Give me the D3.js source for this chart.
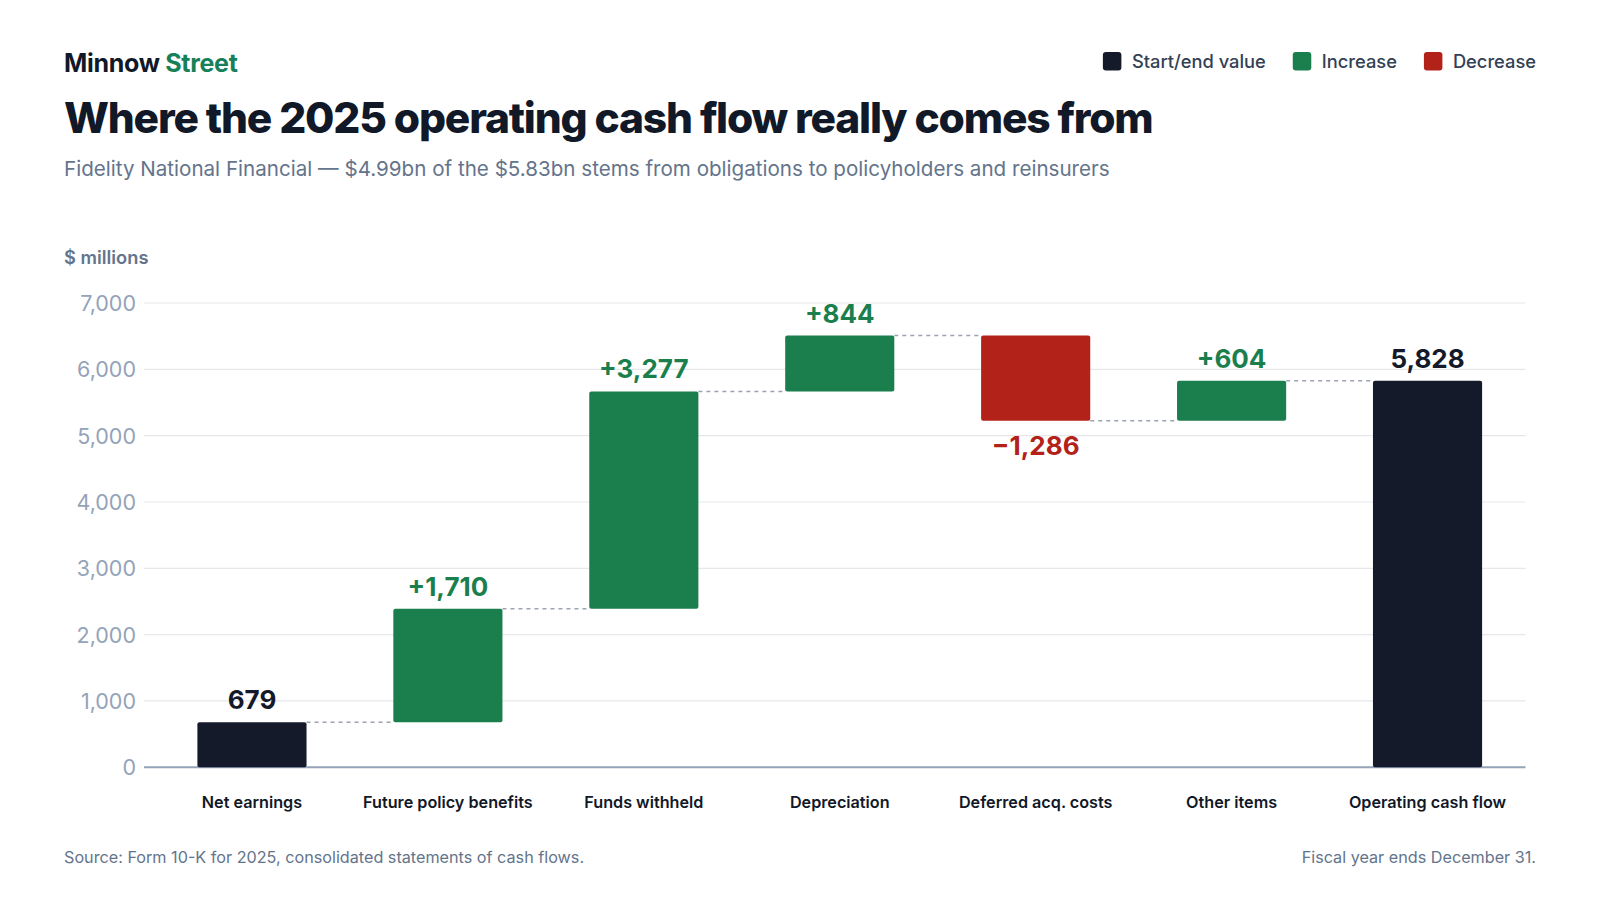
<!DOCTYPE html>
<html><head><meta charset="utf-8">
<script src="https://cdn.jsdelivr.net/npm/d3@7"></script>
<style>
body{margin:0;background:#fff;font-family:Inter,"Noto Sans",sans-serif;}
</style></head>
<body><svg id="c" width="1600" height="900"></svg>
<script>
const categories = ["Net earnings","Future policy benefits","Funds withheld","Depreciation","Deferred acq. costs","Other items","Operating cash flow"];
const values = [679, 1710, 3277, 844, -1286, 604, 5828];
const kinds = ["total","step","step","step","step","step","total"];
const yTicks = [0,1000,2000,3000,4000,5000,6000,7000];
const legendLabels = ["Start/end value","Increase","Decrease"];

const colors = {total:"#141a29", up:"#1b7f4d", down:"#b32219"};
const svg = d3.select("#c");
const F = "Inter, 'Noto Sans', sans-serif";

// Header
const brand = svg.append("text").attr("x",64).attr("y",72).attr("font-family",F).attr("font-size",25).attr("font-weight",700).attr("letter-spacing",-0.3);
brand.append("tspan").attr("fill","#111827").text("Minnow ");
brand.append("tspan").attr("fill","#15805a").text("Street");
svg.append("text").attr("x",64).attr("y",133).attr("font-family",F).attr("font-size",42.5).attr("font-weight",800).attr("fill","#111827").attr("letter-spacing",-1.2).text("Where the 2025 operating cash flow really comes from");
svg.append("text").attr("x",64).attr("y",176).attr("font-family",F).attr("font-size",20.6).attr("fill","#64748b").text("Fidelity National Financial — $4.99bn of the $5.83bn stems from obligations to policyholders and reinsurers");

// Legend (right aligned)
const legColors = [colors.total, colors.up, colors.down];
let lx = 1536;
const legG = svg.append("g");
for (let i = legendLabels.length-1; i >= 0; i--) {
  const t = legG.append("text").attr("y",68).attr("font-family",F).attr("font-size",18.3).attr("font-weight",500).attr("fill","#334155").text(legendLabels[i]);
  const w = t.node().getComputedTextLength();
  t.attr("x", lx - w);
  legG.append("rect").attr("x", lx - w - 29).attr("y",52).attr("width",18.5).attr("height",18.5).attr("rx",3).attr("fill",legColors[i]);
  lx = lx - w - 29 - 27;
}

// Scales
const x = d3.scaleBand().domain(categories).range([154,1525.5]).paddingInner(0.443).paddingOuter(0.2215);
const y = d3.scaleLinear().domain([0,7000]).range([767.3,303]);

svg.append("text").attr("x",64).attr("y",264).attr("font-family",F).attr("font-size",18.3).attr("font-weight",600).attr("fill","#64748b").text("$ millions");

// Grid
const grid = svg.append("g");
grid.selectAll("line").data(yTicks.filter(d=>d>0)).join("line")
  .attr("x1",144).attr("x2",1525.5).attr("y1",d=>y(d)).attr("y2",d=>y(d))
  .attr("stroke","#e5e7eb").attr("stroke-width",1.2);

// y axis labels
const yAxis = d3.axisLeft(y).tickValues(yTicks).tickFormat(d3.format(",")).tickSize(0).tickPadding(0);
const ya = svg.append("g").attr("transform","translate(136,0)").call(yAxis);
ya.select(".domain").remove();
ya.selectAll("text").attr("font-family",F).attr("font-size",21.5).attr("fill","#94a3b8").attr("dy","0.35em");

// Waterfall data
let run = 0;
const bars = values.map((v,i)=>{
  let y0,y1,type;
  if (kinds[i]==="total") { y0=0; y1=v; type="total"; run=v; }
  else { y0=run; y1=run+v; run=y1; type = v>=0?"up":"down"; }
  return {cat:categories[i], v, y0, y1, type, end:y1};
});

// connectors
const conn = svg.append("g");
bars.forEach((b,i)=>{
  if (i===bars.length-1) return;
  const nb = bars[i+1];
  conn.append("line").attr("x1",x(b.cat)+x.bandwidth()).attr("x2",x(nb.cat))
    .attr("y1",y(b.end)).attr("y2",y(b.end))
    .attr("stroke","#9ca3af").attr("stroke-width",1.5).attr("stroke-dasharray","4,4");
});

// baseline
svg.append("line").attr("x1",144).attr("x2",1525.5).attr("y1",y(0)).attr("y2",y(0)).attr("stroke","#94a3b8").attr("stroke-width",2);

svg.append("g").selectAll("rect").data(bars).join("rect")
  .attr("x",d=>x(d.cat)).attr("width",x.bandwidth())
  .attr("y",d=>y(Math.max(d.y0,d.y1))).attr("height",d=>Math.abs(y(d.y0)-y(d.y1)))
  .attr("rx",2).attr("fill",d=>colors[d.type]);

// Value labels
svg.append("g").selectAll("text").data(bars).join("text")
  .attr("x",d=>x(d.cat)+x.bandwidth()/2)
  .attr("y",d=>d.type==="down" ? y(Math.min(d.y0,d.y1))+34 : y(Math.max(d.y0,d.y1))-13)
  .attr("text-anchor","middle").attr("font-family",F).attr("font-size",26).attr("font-weight",700)
  .attr("fill",d=>colors[d.type])
  .text(d=> d.type==="total" ? d3.format(",")(d.v) : (d.v>0?"+":"\u2212")+d3.format(",")(Math.abs(d.v)));

// x axis labels
const xAxis = d3.axisBottom(x).tickSize(0).tickPadding(0);
const xa = svg.append("g").attr("transform","translate(0,808)").call(xAxis);
xa.select(".domain").remove();
xa.selectAll("text").attr("font-family",F).attr("font-size",16.2).attr("font-weight",600).attr("fill","#111827").attr("dy",0);

// Footer
svg.append("text").attr("x",64).attr("y",863).attr("font-family",F).attr("font-size",16.2).attr("fill","#64748b").text("Source: Form 10-K for 2025, consolidated statements of cash flows.");
svg.append("text").attr("x",1536).attr("y",863).attr("text-anchor","end").attr("font-family",F).attr("font-size",16.2).attr("fill","#64748b").text("Fiscal year ends December 31.");
</script></body></html>
